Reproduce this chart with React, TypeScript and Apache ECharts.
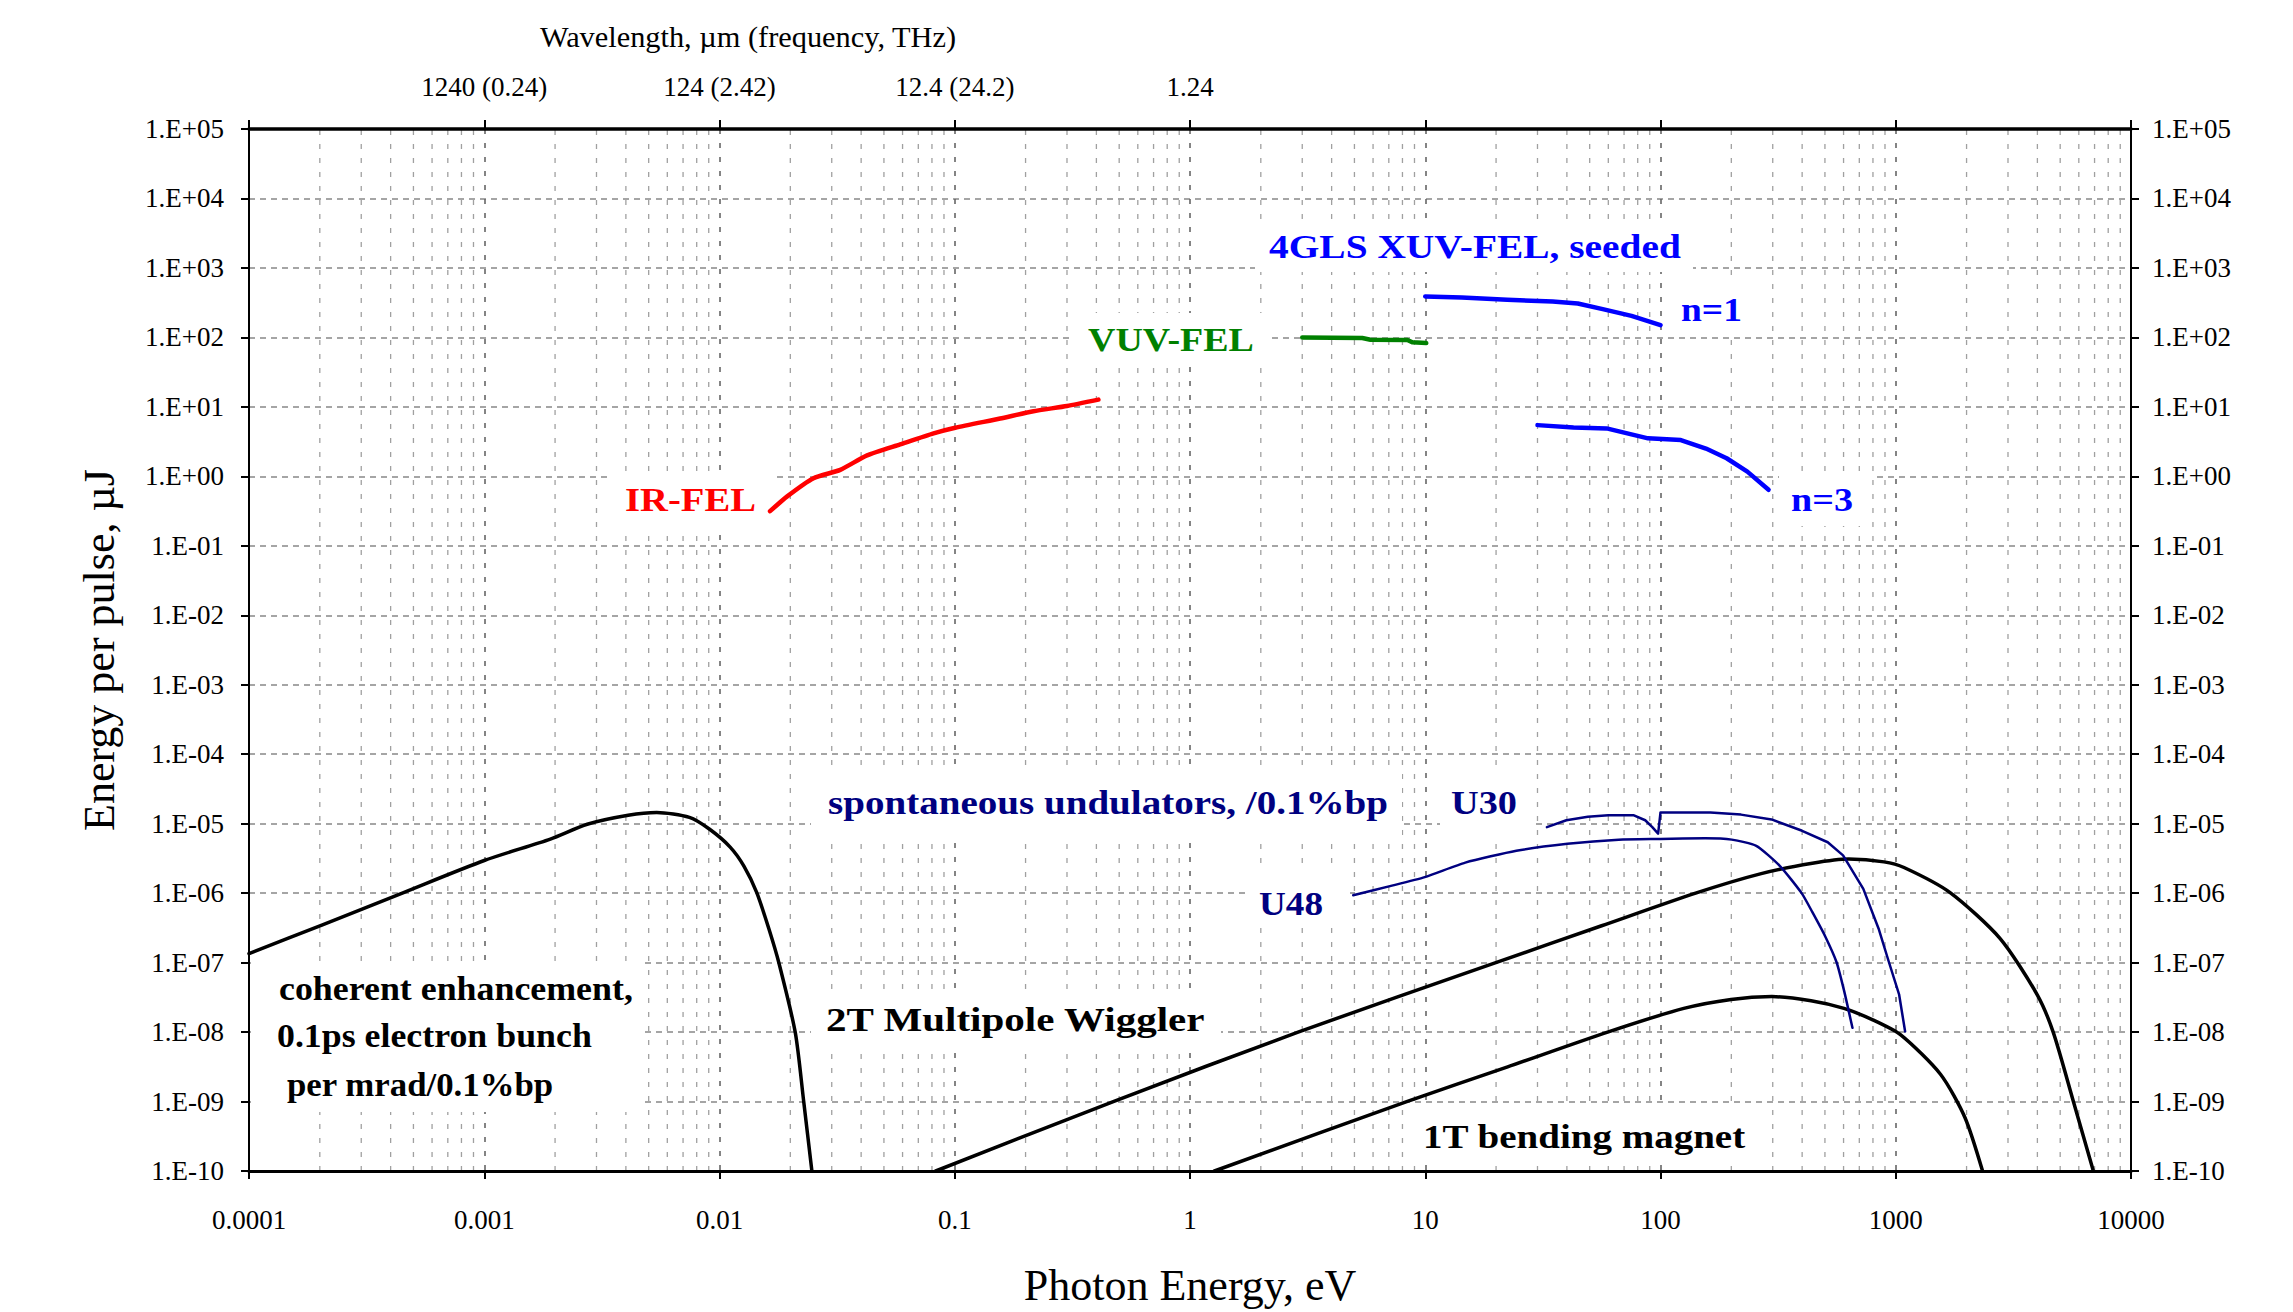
import React, { useEffect, useRef } from 'react';
import * as echarts from 'echarts';

// ---------- data (photon energy in eV, energy per pulse in µJ) ----------
const coherentE = [0.0001, 0.000204, 0.000454, 0.001, 0.00191, 0.00274, 0.00409, 0.00541, 0.00745, 0.00908, 0.0111, 0.0127, 0.0144, 0.0162, 0.0179, 0.021, 0.0228, 0.0247];
const coherentP = [1.35e-7, 3.47e-7, 1.02e-6, 2.95e-6, 6.0e-6, 9.8e-6, 1.32e-5, 1.45e-5, 1.23e-5, 8.3e-6, 4.6e-6, 2.45e-6, 1.02e-6, 3.1e-7, 9.8e-8, 9.8e-9, 1.0e-9, 1.0e-10];

const wigglerE = [0.083, 0.472, 2.88, 19.95, 56.2, 141, 268, 442, 631, 891, 1084, 1702, 2773, 3990, 4677, 5690, 6918];
const wigglerP = [1e-10, 1e-9, 1e-8, 1e-7, 3.39e-7, 1.0e-6, 1.91e-6, 2.69e-6, 3.09e-6, 2.82e-6, 2.34e-6, 1.02e-6, 2.24e-7, 3.47e-8, 9.8e-9, 1e-9, 1e-10];

const bendingE = [1.27, 8.34, 22.4, 59.6, 125.6, 199.5, 297.8, 436.5, 602.6, 794.3, 1050, 1552, 1968, 2339];
const bendingP = [1e-10, 1e-9, 3.16e-9, 1e-8, 2.19e-8, 2.95e-8, 3.24e-8, 2.82e-8, 2.19e-8, 1.51e-8, 9.1e-9, 2.45e-9, 5.9e-10, 1e-10];

const u48E = [4.94, 7.08, 9.95, 14.8, 24.4, 40.2, 66.4, 100, 154.9, 200.9, 255.3, 322, 398, 441.6, 501, 559.8, 602.6, 654.6];
const u48P = [9.33e-7, 1.26e-6, 1.7e-6, 2.75e-6, 4.07e-6, 5.13e-6, 5.89e-6, 6.03e-6, 6.17e-6, 5.89e-6, 4.79e-6, 2.45e-6, 1.0e-6, 5.37e-7, 2.4e-7, 1.02e-7, 3.98e-8, 1.15e-8];

const u30E = [32.9, 39.8, 49.1, 60.0, 77.1, 86.1, 92.3, 97.7, 100, 125.9, 162.9, 219.8, 296.5, 400, 514, 597, 728, 845, 935, 1033, 1096];
const u30P = [8.9e-6, 1.12e-5, 1.26e-5, 1.32e-5, 1.32e-5, 1.12e-5, 8.9e-6, 7.2e-6, 1.45e-5, 1.45e-5, 1.45e-5, 1.35e-5, 1.15e-5, 7.9e-6, 5.4e-6, 3.5e-6, 1.15e-6, 3.1e-7, 1.02e-7, 3.5e-8, 1.02e-8];

const xuvN1E = [10, 14.3, 22.3, 34.8, 44.5, 56.8, 75.3, 100];
const xuvN1P = [389, 375, 347, 328, 308, 255, 204, 150];

const xuvN3E = [30, 42.7, 59, 88.5, 122, 156, 191, 234, 288];
const xuvN3P = [5.46, 5.06, 4.9, 3.52, 3.33, 2.51, 1.82, 1.17, 0.64];

const vuvE = [3.0, 5.4, 5.85, 8.4, 8.8, 10.1];
const vuvP = [100, 98, 92.7, 91.8, 85, 83];

const irE = [0.0164, 0.0194, 0.0251, 0.0326, 0.0424, 0.0586, 0.0813, 0.1005, 0.156, 0.216, 0.3, 0.408];
const irP = [0.315, 0.515, 0.94, 1.24, 2.0, 2.88, 4.15, 5.0, 6.8, 8.65, 10.3, 12.7];

// ---------- tick labels ----------
const xTickLabels = ['0.0001', '0.001', '0.01', '0.1', '1', '10', '100', '1000', '10000'];
const yTickLabels = ['1.E-10', '1.E-09', '1.E-08', '1.E-07', '1.E-06', '1.E-05', '1.E-04', '1.E-03', '1.E-02', '1.E-01', '1.E+00', '1.E+01', '1.E+02', '1.E+03', '1.E+04', '1.E+05'];
const wavelengthEnergies = [0.001, 0.01, 0.1, 1];
const wavelengthLabels = ['1240 (0.24)', '124 (2.42)', '12.4 (24.2)', '1.24'];
const minorMultipliers = [2, 3, 4, 5, 6, 7, 8, 9];

const X_MIN = -4;
const X_MAX = 4;
const Y_MIN = -10;
const Y_MAX = 5;

const SERIF = "'Liberation Serif', 'Times New Roman', Times, serif";

function pairs(E: number[], P: number[]) {
  return E.map((e, i) => [Math.log10(e), Math.log10(P[i])]);
}

function measure(text: string, weight: string, size: number): number {
  const c = document.createElement('canvas').getContext('2d');
  if (!c) return 0;
  c.font = `${weight} ${size}px 'Liberation Serif'`;
  return c.measureText(text).width;
}

// annotation layout (pixel positions of free text labels)
const annotations = [
  { text: '4GLS XUV-FEL, seeded', x: 1269, base: 258, w: 412, color: '#0000FF', size: 34 },
  { text: 'n=1', x: 1681, base: 321, w: 61, color: '#0000FF', size: 34 },
  { text: 'n=3', x: 1791, base: 511, w: 62, color: '#0000FF', size: 34 },
  { text: 'VUV-FEL', x: 1088, base: 351, w: 166, color: '#008000', size: 34 },
  { text: 'IR-FEL', x: 625, base: 511, w: 131, color: '#FF0000', size: 34 },
  { text: 'spontaneous undulators, /0.1%bp', x: 828, base: 814, w: 560, color: '#000080', size: 34 },
  { text: 'U30', x: 1451, base: 814, w: 66, color: '#000080', size: 34 },
  { text: 'U48', x: 1259, base: 915, w: 64, color: '#000080', size: 34 },
  { text: 'coherent enhancement,', x: 279, base: 1000, w: 354, color: '#000000', size: 33 },
  { text: '0.1ps electron bunch', x: 277, base: 1047, w: 315, color: '#000000', size: 33 },
  { text: 'per mrad/0.1%bp', x: 287, base: 1096, w: 267, color: '#000000', size: 33 },
  { text: '2T Multipole Wiggler', x: 826, base: 1031, w: 380, color: '#000000', size: 33 },
  { text: '1T bending magnet', x: 1423, base: 1148, w: 323, color: '#000000', size: 34 },
];

// white label boxes [x, y, w, h]
const boxes = [
  [1255, 222, 438, 50],
  [1674, 282, 78, 52],
  [1073, 313, 194, 53],
  [612, 474, 162, 59],
  [1779, 474, 93, 52],
  [811, 766, 591, 72],
  [1440, 766, 92, 72],
  [1247, 868, 103, 58],
  [251, 961, 393, 151],
  [811, 997, 410, 50],
  [1406, 1103, 358, 57],
];

function buildOption() {
  const minorPositions: number[][] = [];
  for (let n = X_MIN; n < X_MAX; n++) {
    minorMultipliers.forEach((k) => minorPositions.push([n + Math.log10(k), Y_MIN]));
  }

  const graphics: any[] = [];
  boxes.forEach((b) => {
    graphics.push({
      type: 'rect', z: 1, silent: true,
      shape: { x: b[0], y: b[1], width: b[2], height: b[3] },
      style: { fill: '#ffffff' },
    });
  });
  annotations.forEach((a) => {
    const mw = measure(a.text, 'bold', a.size);
    const sx = mw > 0 ? a.w / mw : 1;
    graphics.push({
      type: 'text', z: 10, silent: true,
      x: a.x, y: a.base - 0.3375 * a.size, scaleX: sx,
      style: {
        text: a.text, fill: a.color,
        fontFamily: SERIF, fontSize: a.size, fontWeight: 'bold',
        textAlign: 'left', textVerticalAlign: 'middle', align: 'left', verticalAlign: 'middle',
      },
    });
  });
  const topTitle = 'Wavelength, µm (frequency, THz)';
  const tw = measure(topTitle, 'normal', 30);
  graphics.push({
    type: 'text', z: 10, silent: true,
    x: 748, y: 37, scaleX: tw > 0 ? 417 / tw : 1,
    style: {
      text: topTitle, fill: '#000', fontFamily: SERIF, fontSize: 30,
      textAlign: 'center', textVerticalAlign: 'middle', align: 'center', verticalAlign: 'middle',
    },
  });

  const labelStyle = { fontFamily: SERIF, fontSize: 27, color: '#000' };
  const yFmt = (v: number) => yTickLabels[Math.round(v) - Y_MIN] ?? '';
  const xFmt = (v: number) => xTickLabels[Math.round(v) - X_MIN] ?? '';
  const wFmt = (v: number) => {
    const i = wavelengthEnergies.findIndex((e) => Math.round(Math.log10(e)) === Math.round(v));
    return i >= 0 ? wavelengthLabels[i] : '';
  };

  const line = (name: string, E: number[], P: number[], color: string, width: number, smooth: number | boolean) => ({
    type: 'line', name, xAxisIndex: 0, yAxisIndex: 0, z: 3,
    data: pairs(E, P), showSymbol: false, symbol: 'none',
    smooth,
    lineStyle: { color, width, join: 'round', cap: 'round' }, itemStyle: { color },
  });

  return {
    animation: false,
    backgroundColor: '#ffffff',
    grid: { left: 249, right: 162, top: 129, bottom: 135, show: false },
    xAxis: [
      {
        type: 'value', position: 'bottom', min: X_MIN, max: X_MAX, interval: 1,
        name: 'Photon Energy, eV', nameLocation: 'middle', nameGap: 92,
        nameTextStyle: { fontFamily: SERIF, fontSize: 44, color: '#000' },
        axisLine: { show: true, onZero: false, lineStyle: { color: '#000', width: 3 } },
        axisTick: { show: true, inside: false, length: 8, lineStyle: { color: '#000', width: 2 } },
        axisLabel: { ...labelStyle, margin: 35, formatter: xFmt, showMinLabel: true, showMaxLabel: true },
        splitLine: { show: true, lineStyle: { type: [5, 9], color: '#666666', width: 1.6 } },
      },
      {
        type: 'value', position: 'top', min: X_MIN, max: X_MAX, interval: 1,
        axisLine: { show: true, onZero: false, lineStyle: { color: '#000', width: 3.5 } },
        axisTick: { show: true, inside: false, length: 9, lineStyle: { color: '#000', width: 2 } },
        axisLabel: { ...labelStyle, margin: 29, formatter: wFmt, showMinLabel: true, showMaxLabel: true },
        splitLine: { show: false },
      },
    ],
    yAxis: [
      {
        type: 'value', position: 'left', min: Y_MIN, max: Y_MAX, interval: 1,
        name: 'Energy per pulse, µJ', nameLocation: 'middle', nameGap: 128, nameRotate: 90,
        nameTextStyle: { fontFamily: SERIF, fontSize: 44, color: '#000' },
        axisLine: { show: true, onZero: false, lineStyle: { color: '#000', width: 2 } },
        axisTick: { show: true, inside: false, length: 8, lineStyle: { color: '#000', width: 2 } },
        axisLabel: { ...labelStyle, margin: 25, formatter: yFmt, showMinLabel: true, showMaxLabel: true },
        splitLine: { show: true, lineStyle: { type: [6, 5], color: '#888888', width: 1.5 } },
      },
      {
        type: 'value', position: 'right', min: Y_MIN, max: Y_MAX, interval: 1,
        axisLine: { show: true, onZero: false, lineStyle: { color: '#000', width: 2 } },
        axisTick: { show: true, inside: false, length: 8, lineStyle: { color: '#000', width: 2 } },
        axisLabel: { ...labelStyle, margin: 21, formatter: yFmt, showMinLabel: true, showMaxLabel: true },
        splitLine: { show: false },
      },
    ],
    series: [
      {
        type: 'custom', name: 'minor grid', xAxisIndex: 0, yAxisIndex: 0, z: 0, silent: true,
        data: minorPositions,
        renderItem: (_p: any, api: any) => {
          const x = api.value(0);
          const a = api.coord([x, Y_MIN]);
          const b = api.coord([x, Y_MAX]);
          return {
            type: 'line',
            shape: { x1: a[0], y1: a[1], x2: b[0], y2: b[1] },
            style: { stroke: '#a0a0a0', lineWidth: 1.3, lineDash: [5, 9] },
          };
        },
      },
      line('coherent enhancement', coherentE, coherentP, '#000000', 3.5, 0.25),
      line('2T Multipole Wiggler', wigglerE, wigglerP, '#000000', 3.5, 0.25),
      line('1T bending magnet', bendingE, bendingP, '#000000', 3.5, 0.25),
      line('U48', u48E, u48P, '#000080', 2.5, 0.2),
      line('U30', u30E, u30P, '#000080', 2.5, false),
      line('4GLS XUV-FEL n=1', xuvN1E, xuvN1P, '#0000FF', 4.5, false),
      line('4GLS XUV-FEL n=3', xuvN3E, xuvN3P, '#0000FF', 4.5, false),
      line('VUV-FEL', vuvE, vuvP, '#008000', 4.5, false),
      line('IR-FEL', irE, irP, '#FF0000', 4.5, 0.2),
    ],
    graphic: { elements: graphics },
  };
}

export default function App() {
  const ref = useRef<HTMLDivElement>(null);
  useEffect(() => {
    const el = ref.current;
    if (!el) return;
    const chart = echarts.init(el, undefined, { renderer: 'svg' });
    chart.setOption(buildOption() as any);
    return () => chart.dispose();
  }, []);
  return (
    <div
      ref={ref}
      style={{ position: 'absolute', left: 0, top: 0, width: 2293, height: 1312, background: '#fff' }}
    />
  );
}
